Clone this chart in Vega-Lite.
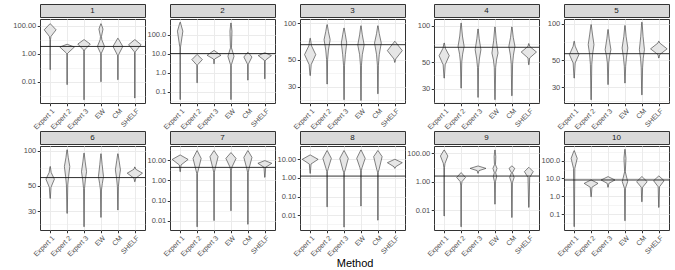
{
"$schema":"https://vega.github.io/schema/vega-lite/v6.json",
"padding":{"left":12,"top":3,"right":2,"bottom":0},
"config":{"font":"Liberation Sans","view":{"stroke":"#333333","strokeWidth":1},"axis":{"labelFontSize":7.5,"labelColor":"#4d4d4d","tickColor":"#333333","tickSize":2.75,"labelPadding":1.5,"domain":false,"gridColor":"#ebebeb","title":null},"axisX":{"labelFontSize":7,"labelPadding":1}},
"title":{"text":"Method","orient":"bottom","fontSize":11,"fontWeight":"normal","color":"#000000","anchor":"middle","dx":14,"offset":0},
"datasets":{
"h":[{"p":1,"h":3.3},{"p":2,"h":10},{"p":3,"h":66.4},{"p":4,"h":66.2},{"p":5,"h":56.6},{"p":6,"h":58.6},{"p":7,"h":4.35},{"p":8,"h":1.26},{"p":9,"h":2.5},{"p":10,"h":8.2}],
"v":[
{"p":1,"m":"Expert 1","v":0.072,"w":0.01},{"p":1,"m":"Expert 1","v":10,"w":0.02},{"p":1,"m":"Expert 1","v":17.4,"w":0.05},{"p":1,"m":"Expert 1","v":51,"w":0.35},{"p":1,"m":"Expert 1","v":138,"w":0.01},
{"p":1,"m":"Expert 2","v":0.0062,"w":0.01},{"p":1,"m":"Expert 2","v":1.0,"w":0.015},{"p":1,"m":"Expert 2","v":1.12,"w":0.05},{"p":1,"m":"Expert 2","v":3.0,"w":0.43},{"p":1,"m":"Expert 2","v":4.7,"w":0.01},
{"p":1,"m":"Expert 3","v":0.00051,"w":0.01},{"p":1,"m":"Expert 3","v":1.5,"w":0.015},{"p":1,"m":"Expert 3","v":1.95,"w":0.05},{"p":1,"m":"Expert 3","v":4.9,"w":0.37},{"p":1,"m":"Expert 3","v":10,"w":0.01},
{"p":1,"m":"EW","v":0.01,"w":0.01},{"p":1,"m":"EW","v":1.0,"w":0.015},{"p":1,"m":"EW","v":1.12,"w":0.03},{"p":1,"m":"EW","v":3.3,"w":0.21},{"p":1,"m":"EW","v":10,"w":0.05},{"p":1,"m":"EW","v":17,"w":0.03},{"p":1,"m":"EW","v":57.5,"w":0.12},{"p":1,"m":"EW","v":138,"w":0.01},
{"p":1,"m":"CM","v":0.0138,"w":0.01},{"p":1,"m":"CM","v":0.7,"w":0.015},{"p":1,"m":"CM","v":0.85,"w":0.04},{"p":1,"m":"CM","v":3.3,"w":0.29},{"p":1,"m":"CM","v":12.6,"w":0.01},
{"p":1,"m":"SHELF","v":0.00068,"w":0.01},{"p":1,"m":"SHELF","v":1.2,"w":0.015},{"p":1,"m":"SHELF","v":1.48,"w":0.05},{"p":1,"m":"SHELF","v":4.4,"w":0.37},{"p":1,"m":"SHELF","v":10,"w":0.01},

{"p":2,"m":"Expert 1","v":0.038,"w":0.01},{"p":2,"m":"Expert 1","v":20,"w":0.015},{"p":2,"m":"Expert 1","v":24.5,"w":0.03},{"p":2,"m":"Expert 1","v":151,"w":0.16},{"p":2,"m":"Expert 1","v":447,"w":0.01},
{"p":2,"m":"Expert 2","v":0.29,"w":0.01},{"p":2,"m":"Expert 2","v":2.3,"w":0.015},{"p":2,"m":"Expert 2","v":2.63,"w":0.04},{"p":2,"m":"Expert 2","v":4.8,"w":0.31},{"p":2,"m":"Expert 2","v":8.9,"w":0.01},
{"p":2,"m":"Expert 3","v":2.9,"w":0.01},{"p":2,"m":"Expert 3","v":4.6,"w":0.015},{"p":2,"m":"Expert 3","v":5.2,"w":0.04},{"p":2,"m":"Expert 3","v":8.1,"w":0.41},{"p":2,"m":"Expert 3","v":14.5,"w":0.01},
{"p":2,"m":"EW","v":0.038,"w":0.01},{"p":2,"m":"EW","v":2.3,"w":0.015},{"p":2,"m":"EW","v":2.63,"w":0.03},{"p":2,"m":"EW","v":7.2,"w":0.18},{"p":2,"m":"EW","v":20,"w":0.03},{"p":2,"m":"EW","v":151,"w":0.06},{"p":2,"m":"EW","v":407,"w":0.01},
{"p":2,"m":"CM","v":0.40,"w":0.01},{"p":2,"m":"CM","v":2.6,"w":0.015},{"p":2,"m":"CM","v":2.95,"w":0.04},{"p":2,"m":"CM","v":6.6,"w":0.24},{"p":2,"m":"CM","v":11.7,"w":0.01},
{"p":2,"m":"SHELF","v":0.47,"w":0.01},{"p":2,"m":"SHELF","v":4,"w":0.015},{"p":2,"m":"SHELF","v":4.5,"w":0.04},{"p":2,"m":"SHELF","v":7.8,"w":0.39},{"p":2,"m":"SHELF","v":11,"w":0.01},

{"p":3,"m":"Expert 1","v":37,"w":0.01},{"p":3,"m":"Expert 1","v":45.5,"w":0.06},{"p":3,"m":"Expert 1","v":55,"w":0.33},{"p":3,"m":"Expert 1","v":65,"w":0.08},{"p":3,"m":"Expert 1","v":75,"w":0.01},
{"p":3,"m":"Expert 2","v":31.5,"w":0.01},{"p":3,"m":"Expert 2","v":50,"w":0.03},{"p":3,"m":"Expert 2","v":60,"w":0.08},{"p":3,"m":"Expert 2","v":73,"w":0.18},{"p":3,"m":"Expert 2","v":85,"w":0.08},{"p":3,"m":"Expert 2","v":97,"w":0.01},
{"p":3,"m":"Expert 3","v":23.4,"w":0.01},{"p":3,"m":"Expert 3","v":45,"w":0.03},{"p":3,"m":"Expert 3","v":55,"w":0.08},{"p":3,"m":"Expert 3","v":68.5,"w":0.16},{"p":3,"m":"Expert 3","v":80,"w":0.08},{"p":3,"m":"Expert 3","v":91,"w":0.01},
{"p":3,"m":"EW","v":23.1,"w":0.01},{"p":3,"m":"EW","v":45,"w":0.03},{"p":3,"m":"EW","v":55,"w":0.08},{"p":3,"m":"EW","v":66,"w":0.19},{"p":3,"m":"EW","v":80,"w":0.08},{"p":3,"m":"EW","v":95,"w":0.01},
{"p":3,"m":"CM","v":26.2,"w":0.01},{"p":3,"m":"CM","v":45,"w":0.03},{"p":3,"m":"CM","v":55,"w":0.08},{"p":3,"m":"CM","v":68.5,"w":0.2},{"p":3,"m":"CM","v":82,"w":0.08},{"p":3,"m":"CM","v":95,"w":0.01},
{"p":3,"m":"SHELF","v":47.5,"w":0.01},{"p":3,"m":"SHELF","v":50.6,"w":0.05},{"p":3,"m":"SHELF","v":59.3,"w":0.44},{"p":3,"m":"SHELF","v":70.7,"w":0.01},

{"p":4,"m":"Expert 1","v":36.8,"w":0.01},{"p":4,"m":"Expert 1","v":47.5,"w":0.06},{"p":4,"m":"Expert 1","v":56.4,"w":0.3},{"p":4,"m":"Expert 1","v":65,"w":0.07},{"p":4,"m":"Expert 1","v":71.8,"w":0.01},
{"p":4,"m":"Expert 2","v":30.4,"w":0.01},{"p":4,"m":"Expert 2","v":50,"w":0.04},{"p":4,"m":"Expert 2","v":58,"w":0.09},{"p":4,"m":"Expert 2","v":67.4,"w":0.18},{"p":4,"m":"Expert 2","v":82,"w":0.08},{"p":4,"m":"Expert 2","v":105,"w":0.01},
{"p":4,"m":"Expert 3","v":25.5,"w":0.01},{"p":4,"m":"Expert 3","v":45,"w":0.03},{"p":4,"m":"Expert 3","v":53,"w":0.08},{"p":4,"m":"Expert 3","v":63.2,"w":0.17},{"p":4,"m":"Expert 3","v":78,"w":0.07},{"p":4,"m":"Expert 3","v":93.8,"w":0.01},
{"p":4,"m":"EW","v":24.4,"w":0.01},{"p":4,"m":"EW","v":45,"w":0.04},{"p":4,"m":"EW","v":52,"w":0.09},{"p":4,"m":"EW","v":59.3,"w":0.18},{"p":4,"m":"EW","v":75,"w":0.08},{"p":4,"m":"EW","v":97.5,"w":0.01},
{"p":4,"m":"CM","v":26.3,"w":0.01},{"p":4,"m":"CM","v":48,"w":0.04},{"p":4,"m":"CM","v":57,"w":0.09},{"p":4,"m":"CM","v":67.4,"w":0.18},{"p":4,"m":"CM","v":80,"w":0.08},{"p":4,"m":"CM","v":97.5,"w":0.01},
{"p":4,"m":"SHELF","v":47.5,"w":0.01},{"p":4,"m":"SHELF","v":54,"w":0.05},{"p":4,"m":"SHELF","v":60.5,"w":0.45},{"p":4,"m":"SHELF","v":67.4,"w":0.05},{"p":4,"m":"SHELF","v":71,"w":0.01},

{"p":5,"m":"Expert 1","v":35.7,"w":0.01},{"p":5,"m":"Expert 1","v":47.5,"w":0.06},{"p":5,"m":"Expert 1","v":55.6,"w":0.28},{"p":5,"m":"Expert 1","v":65.2,"w":0.06},{"p":5,"m":"Expert 1","v":71.6,"w":0.01},
{"p":5,"m":"Expert 2","v":23.7,"w":0.01},{"p":5,"m":"Expert 2","v":46,"w":0.04},{"p":5,"m":"Expert 2","v":56,"w":0.09},{"p":5,"m":"Expert 2","v":67.2,"w":0.17},{"p":5,"m":"Expert 2","v":82,"w":0.08},{"p":5,"m":"Expert 2","v":98,"w":0.01},
{"p":5,"m":"Expert 3","v":31.6,"w":0.01},{"p":5,"m":"Expert 3","v":47.5,"w":0.04},{"p":5,"m":"Expert 3","v":54,"w":0.09},{"p":5,"m":"Expert 3","v":61,"w":0.17},{"p":5,"m":"Expert 3","v":75,"w":0.07},{"p":5,"m":"Expert 3","v":89.3,"w":0.01},
{"p":5,"m":"EW","v":32.5,"w":0.01},{"p":5,"m":"EW","v":44.6,"w":0.04},{"p":5,"m":"EW","v":53,"w":0.09},{"p":5,"m":"EW","v":63,"w":0.17},{"p":5,"m":"EW","v":78,"w":0.07},{"p":5,"m":"EW","v":96.3,"w":0.01},
{"p":5,"m":"CM","v":26,"w":0.01},{"p":5,"m":"CM","v":43.3,"w":0.04},{"p":5,"m":"CM","v":52,"w":0.08},{"p":5,"m":"CM","v":61,"w":0.15},{"p":5,"m":"CM","v":78,"w":0.07},{"p":5,"m":"CM","v":102.6,"w":0.01},
{"p":5,"m":"SHELF","v":52.2,"w":0.01},{"p":5,"m":"SHELF","v":55.6,"w":0.05},{"p":5,"m":"SHELF","v":62,"w":0.49},{"p":5,"m":"SHELF","v":69.3,"w":0.05},{"p":5,"m":"SHELF","v":71.6,"w":0.01},

{"p":6,"m":"Expert 1","v":38.7,"w":0.01},{"p":6,"m":"Expert 1","v":48.3,"w":0.05},{"p":6,"m":"Expert 1","v":56.8,"w":0.25},{"p":6,"m":"Expert 1","v":64.9,"w":0.06},{"p":6,"m":"Expert 1","v":73,"w":0.01},
{"p":6,"m":"Expert 2","v":28.7,"w":0.01},{"p":6,"m":"Expert 2","v":50.6,"w":0.04},{"p":6,"m":"Expert 2","v":60,"w":0.09},{"p":6,"m":"Expert 2","v":73,"w":0.16},{"p":6,"m":"Expert 2","v":87,"w":0.07},{"p":6,"m":"Expert 2","v":102,"w":0.01},
{"p":6,"m":"Expert 3","v":22,"w":0.01},{"p":6,"m":"Expert 3","v":47.3,"w":0.03},{"p":6,"m":"Expert 3","v":56,"w":0.08},{"p":6,"m":"Expert 3","v":66,"w":0.15},{"p":6,"m":"Expert 3","v":80,"w":0.07},{"p":6,"m":"Expert 3","v":95.4,"w":0.01},
{"p":6,"m":"EW","v":26.5,"w":0.01},{"p":6,"m":"EW","v":45.8,"w":0.03},{"p":6,"m":"EW","v":52,"w":0.08},{"p":6,"m":"EW","v":59.8,"w":0.15},{"p":6,"m":"EW","v":76,"w":0.07},{"p":6,"m":"EW","v":94.2,"w":0.01},
{"p":6,"m":"CM","v":30.7,"w":0.01},{"p":6,"m":"CM","v":48.9,"w":0.03},{"p":6,"m":"CM","v":58,"w":0.08},{"p":6,"m":"CM","v":68.4,"w":0.15},{"p":6,"m":"CM","v":82,"w":0.07},{"p":6,"m":"CM","v":94.2,"w":0.01},
{"p":6,"m":"SHELF","v":54,"w":0.01},{"p":6,"m":"SHELF","v":57.8,"w":0.05},{"p":6,"m":"SHELF","v":64,"w":0.45},{"p":6,"m":"SHELF","v":69.3,"w":0.05},{"p":6,"m":"SHELF","v":72.4,"w":0.01},

{"p":7,"m":"Expert 1","v":2.67,"w":0.01},{"p":7,"m":"Expert 1","v":5.7,"w":0.05},{"p":7,"m":"Expert 1","v":10.7,"w":0.47},{"p":7,"m":"Expert 1","v":17.6,"w":0.01},
{"p":7,"m":"Expert 2","v":0.0052,"w":0.01},{"p":7,"m":"Expert 2","v":2.2,"w":0.02},{"p":7,"m":"Expert 2","v":3.2,"w":0.07},{"p":7,"m":"Expert 2","v":12,"w":0.24},{"p":7,"m":"Expert 2","v":28.8,"w":0.01},
{"p":7,"m":"Expert 3","v":0.0105,"w":0.01},{"p":7,"m":"Expert 3","v":2.5,"w":0.02},{"p":7,"m":"Expert 3","v":3.9,"w":0.07},{"p":7,"m":"Expert 3","v":14.6,"w":0.24},{"p":7,"m":"Expert 3","v":28.8,"w":0.01},
{"p":7,"m":"EW","v":0.032,"w":0.01},{"p":7,"m":"EW","v":3.2,"w":0.02},{"p":7,"m":"EW","v":4.7,"w":0.07},{"p":7,"m":"EW","v":12,"w":0.3},{"p":7,"m":"EW","v":22.9,"w":0.01},
{"p":7,"m":"CM","v":0.0069,"w":0.01},{"p":7,"m":"CM","v":2.5,"w":0.02},{"p":7,"m":"CM","v":3.9,"w":0.07},{"p":7,"m":"CM","v":13.5,"w":0.24},{"p":7,"m":"CM","v":28.8,"w":0.01},
{"p":7,"m":"SHELF","v":1.41,"w":0.01},{"p":7,"m":"SHELF","v":4.4,"w":0.05},{"p":7,"m":"SHELF","v":6.9,"w":0.41},{"p":7,"m":"SHELF","v":9.3,"w":0.01},

{"p":8,"m":"Expert 1","v":1.76,"w":0.01},{"p":8,"m":"Expert 1","v":5.6,"w":0.05},{"p":8,"m":"Expert 1","v":10,"w":0.47},{"p":8,"m":"Expert 1","v":17.1,"w":0.01},
{"p":8,"m":"Expert 2","v":0.028,"w":0.01},{"p":8,"m":"Expert 2","v":2.2,"w":0.02},{"p":8,"m":"Expert 2","v":3.3,"w":0.07},{"p":8,"m":"Expert 2","v":11.3,"w":0.25},{"p":8,"m":"Expert 2","v":29.3,"w":0.01},
{"p":8,"m":"Expert 3","v":0.0023,"w":0.01},{"p":8,"m":"Expert 3","v":2.0,"w":0.02},{"p":8,"m":"Expert 3","v":2.7,"w":0.07},{"p":8,"m":"Expert 3","v":11.3,"w":0.25},{"p":8,"m":"Expert 3","v":29.3,"w":0.01},
{"p":8,"m":"EW","v":0.031,"w":0.01},{"p":8,"m":"EW","v":2.5,"w":0.02},{"p":8,"m":"EW","v":3.7,"w":0.07},{"p":8,"m":"EW","v":11.3,"w":0.25},{"p":8,"m":"EW","v":31.6,"w":0.01},
{"p":8,"m":"CM","v":0.0054,"w":0.01},{"p":8,"m":"CM","v":2.0,"w":0.02},{"p":8,"m":"CM","v":2.9,"w":0.07},{"p":8,"m":"CM","v":13.9,"w":0.25},{"p":8,"m":"CM","v":29.3,"w":0.01},
{"p":8,"m":"SHELF","v":3.3,"w":0.01},{"p":8,"m":"SHELF","v":4.0,"w":0.05},{"p":8,"m":"SHELF","v":6.6,"w":0.44},{"p":8,"m":"SHELF","v":10,"w":0.01},

{"p":9,"m":"Expert 1","v":0.0038,"w":0.01},{"p":9,"m":"Expert 1","v":10,"w":0.02},{"p":9,"m":"Expert 1","v":19.5,"w":0.05},{"p":9,"m":"Expert 1","v":65,"w":0.22},{"p":9,"m":"Expert 1","v":172,"w":0.01},
{"p":9,"m":"Expert 2","v":0.00066,"w":0.01},{"p":9,"m":"Expert 2","v":0.5,"w":0.02},{"p":9,"m":"Expert 2","v":1.0,"w":0.05},{"p":9,"m":"Expert 2","v":2.0,"w":0.26},{"p":9,"m":"Expert 2","v":4.3,"w":0.01},
{"p":9,"m":"Expert 3","v":3.9,"w":0.01},{"p":9,"m":"Expert 3","v":6.0,"w":0.05},{"p":9,"m":"Expert 3","v":8.7,"w":0.47},{"p":9,"m":"Expert 3","v":12.8,"w":0.01},
{"p":9,"m":"EW","v":0.026,"w":0.01},{"p":9,"m":"EW","v":1.0,"w":0.03},{"p":9,"m":"EW","v":2.25,"w":0.1},{"p":9,"m":"EW","v":4.3,"w":0.04},{"p":9,"m":"EW","v":8.7,"w":0.12},{"p":9,"m":"EW","v":15.8,"w":0.03},{"p":9,"m":"EW","v":58,"w":0.05},{"p":9,"m":"EW","v":172,"w":0.01},
{"p":9,"m":"CM","v":0.003,"w":0.01},{"p":9,"m":"CM","v":0.85,"w":0.03},{"p":9,"m":"CM","v":2.0,"w":0.13},{"p":9,"m":"CM","v":4.3,"w":0.03},{"p":9,"m":"CM","v":8.7,"w":0.17},{"p":9,"m":"CM","v":12.8,"w":0.01},
{"p":9,"m":"SHELF","v":0.0155,"w":0.01},{"p":9,"m":"SHELF","v":2.0,"w":0.05},{"p":9,"m":"SHELF","v":5.1,"w":0.26},{"p":9,"m":"SHELF","v":10.2,"w":0.01},

{"p":10,"m":"Expert 1","v":0.0195,"w":0.01},{"p":10,"m":"Expert 1","v":37,"w":0.04},{"p":10,"m":"Expert 1","v":135,"w":0.18},{"p":10,"m":"Expert 1","v":366,"w":0.01},
{"p":10,"m":"Expert 2","v":0.93,"w":0.01},{"p":10,"m":"Expert 2","v":3.2,"w":0.05},{"p":10,"m":"Expert 2","v":5.3,"w":0.41},{"p":10,"m":"Expert 2","v":8.2,"w":0.01},
{"p":10,"m":"Expert 3","v":3.2,"w":0.01},{"p":10,"m":"Expert 3","v":5.3,"w":0.05},{"p":10,"m":"Expert 3","v":8.2,"w":0.41},{"p":10,"m":"Expert 3","v":12.6,"w":0.01},
{"p":10,"m":"EW","v":0.042,"w":0.01},{"p":10,"m":"EW","v":2.8,"w":0.03},{"p":10,"m":"EW","v":6.6,"w":0.16},{"p":10,"m":"EW","v":24,"w":0.02},{"p":10,"m":"EW","v":135,"w":0.06},{"p":10,"m":"EW","v":435,"w":0.01},
{"p":10,"m":"CM","v":0.49,"w":0.01},{"p":10,"m":"CM","v":3.2,"w":0.04},{"p":10,"m":"CM","v":6.6,"w":0.31},{"p":10,"m":"CM","v":12.6,"w":0.01},
{"p":10,"m":"SHELF","v":0.236,"w":0.01},{"p":10,"m":"SHELF","v":3.4,"w":0.04},{"p":10,"m":"SHELF","v":7.5,"w":0.31},{"p":10,"m":"SHELF","v":13.7,"w":0.01}
]},
"columns":5,
"spacing":{"row":-3,"column":0},
"concat":[
{"spacing":0,"vconcat":[
 {"width":105,"height":13,"view":{"fill":"#d9d9d9","stroke":"#333333"},"data":{"values":[{}]},"mark":{"type":"text","text":"1","fontSize":8,"color":"#1a1a1a","baseline":"middle"},"encoding":{}},
 {"width":105,"height":84,"layer":[
  {"data":{"name":"v"},"transform":[{"filter":"datum.p == 1"},{"calculate":"indexof(['Expert 1','Expert 2','Expert 3','EW','CM','SHELF'], datum.m) + 1","as":"c"},{"calculate":"datum.c - datum.w","as":"lo"},{"calculate":"datum.c + datum.w","as":"hi"}],
   "mark":{"type":"area","orient":"horizontal","fill":"#e6e6e6","stroke":"#333333","strokeWidth":0.6},
   "encoding":{
    "y":{"field":"v","type":"quantitative","scale":{"type":"log","domain":[0.0003,302],"nice":false},"axis":{"values":[0.001,0.01,0.1,1,10,100],"labelExpr":"indexof([0.01,1,100],datum.value)>=0 ? format(datum.value,'.2f') : ''","tickOpacity":{"condition":{"test":"indexof([0.01,1,100],datum.value)>=0","value":1},"value":0},"gridWidth":{"condition":{"test":"indexof([0.01,1,100],datum.value)>=0","value":1},"value":0.5},"labelOverlap":false,"labelFlush":false}},
    "x":{"field":"lo","type":"quantitative","scale":{"domain":[0.4,6.6],"nice":false,"zero":false},"axis":{"values":[1,2,3,4,5,6],"labelExpr":"['Expert 1','Expert 2','Expert 3','EW','CM','SHELF'][datum.value - 1]","labelAngle":-45,"labelAlign":"right","labelBaseline":"top","labelOverlap":false,"labelFlush":false,"grid":true,"gridWidth":1}},
    "x2":{"field":"hi"},
    "detail":{"field":"m"}}},
  {"data":{"name":"h"},"transform":[{"filter":"datum.p == 1"}],"mark":{"type":"rule","color":"#1a1a1a","strokeWidth":0.9},"encoding":{"y":{"field":"h","type":"quantitative","scale":{"type":"log","domain":[0.0003,302],"nice":false}}}}
 ]}
]},
{"spacing":0,"vconcat":[
 {"width":105,"height":13,"view":{"fill":"#d9d9d9","stroke":"#333333"},"data":{"values":[{}]},"mark":{"type":"text","text":"2","fontSize":8,"color":"#1a1a1a","baseline":"middle"},"encoding":{}},
 {"width":105,"height":84,"layer":[
  {"data":{"name":"v"},"transform":[{"filter":"datum.p == 2"},{"calculate":"indexof(['Expert 1','Expert 2','Expert 3','EW','CM','SHELF'], datum.m) + 1","as":"c"},{"calculate":"datum.c - datum.w","as":"lo"},{"calculate":"datum.c + datum.w","as":"hi"}],
   "mark":{"type":"area","orient":"horizontal","fill":"#e6e6e6","stroke":"#333333","strokeWidth":0.6},
   "encoding":{
    "y":{"field":"v","type":"quantitative","scale":{"type":"log","domain":[0.025,660],"nice":false},"axis":{"values":[0.0316,0.1,0.316,1,3.16,10,31.6,100,316],"labelExpr":"indexof([0.1,1,10,100],datum.value)>=0 ? format(datum.value,'.1f') : ''","tickOpacity":{"condition":{"test":"indexof([0.1,1,10,100],datum.value)>=0","value":1},"value":0},"gridWidth":{"condition":{"test":"indexof([0.1,1,10,100],datum.value)>=0","value":1},"value":0.5},"labelOverlap":false,"labelFlush":false}},
    "x":{"field":"lo","type":"quantitative","scale":{"domain":[0.4,6.6],"nice":false,"zero":false},"axis":{"values":[1,2,3,4,5,6],"labelExpr":"['Expert 1','Expert 2','Expert 3','EW','CM','SHELF'][datum.value - 1]","labelAngle":-45,"labelAlign":"right","labelBaseline":"top","labelOverlap":false,"labelFlush":false,"grid":true,"gridWidth":1}},
    "x2":{"field":"hi"},
    "detail":{"field":"m"}}},
  {"data":{"name":"h"},"transform":[{"filter":"datum.p == 2"}],"mark":{"type":"rule","color":"#1a1a1a","strokeWidth":0.9},"encoding":{"y":{"field":"h","type":"quantitative","scale":{"type":"log","domain":[0.025,660],"nice":false}}}}
 ]}
]},
{"spacing":0,"vconcat":[
 {"width":105,"height":13,"view":{"fill":"#d9d9d9","stroke":"#333333"},"data":{"values":[{}]},"mark":{"type":"text","text":"3","fontSize":8,"color":"#1a1a1a","baseline":"middle"},"encoding":{}},
 {"width":105,"height":84,"layer":[
  {"data":{"name":"v"},"transform":[{"filter":"datum.p == 3"},{"calculate":"indexof(['Expert 1','Expert 2','Expert 3','EW','CM','SHELF'], datum.m) + 1","as":"c"},{"calculate":"datum.c - datum.w","as":"lo"},{"calculate":"datum.c + datum.w","as":"hi"}],
   "mark":{"type":"area","orient":"horizontal","fill":"#e6e6e6","stroke":"#333333","strokeWidth":0.6},
   "encoding":{
    "y":{"field":"v","type":"quantitative","scale":{"type":"log","domain":[22,108],"nice":false},"axis":{"values":[23.2,30,38.7,50,70.7,100],"labelExpr":"indexof([30,50,100],datum.value)>=0 ? format(datum.value,'d') : ''","tickOpacity":{"condition":{"test":"indexof([30,50,100],datum.value)>=0","value":1},"value":0},"gridWidth":{"condition":{"test":"indexof([30,50,100],datum.value)>=0","value":1},"value":0.5},"labelOverlap":false,"labelFlush":false}},
    "x":{"field":"lo","type":"quantitative","scale":{"domain":[0.4,6.6],"nice":false,"zero":false},"axis":{"values":[1,2,3,4,5,6],"labelExpr":"['Expert 1','Expert 2','Expert 3','EW','CM','SHELF'][datum.value - 1]","labelAngle":-45,"labelAlign":"right","labelBaseline":"top","labelOverlap":false,"labelFlush":false,"grid":true,"gridWidth":1}},
    "x2":{"field":"hi"},
    "detail":{"field":"m"}}},
  {"data":{"name":"h"},"transform":[{"filter":"datum.p == 3"}],"mark":{"type":"rule","color":"#1a1a1a","strokeWidth":0.9},"encoding":{"y":{"field":"h","type":"quantitative","scale":{"type":"log","domain":[22,108],"nice":false}}}}
 ]}
]},
{"spacing":0,"vconcat":[
 {"width":105,"height":13,"view":{"fill":"#d9d9d9","stroke":"#333333"},"data":{"values":[{}]},"mark":{"type":"text","text":"4","fontSize":8,"color":"#1a1a1a","baseline":"middle"},"encoding":{}},
 {"width":105,"height":84,"layer":[
  {"data":{"name":"v"},"transform":[{"filter":"datum.p == 4"},{"calculate":"indexof(['Expert 1','Expert 2','Expert 3','EW','CM','SHELF'], datum.m) + 1","as":"c"},{"calculate":"datum.c - datum.w","as":"lo"},{"calculate":"datum.c + datum.w","as":"hi"}],
   "mark":{"type":"area","orient":"horizontal","fill":"#e6e6e6","stroke":"#333333","strokeWidth":0.6},
   "encoding":{
    "y":{"field":"v","type":"quantitative","scale":{"type":"log","domain":[22.9,113.5],"nice":false},"axis":{"values":[23.2,30,38.7,50,70.7,100],"labelExpr":"indexof([30,50,100],datum.value)>=0 ? format(datum.value,'d') : ''","tickOpacity":{"condition":{"test":"indexof([30,50,100],datum.value)>=0","value":1},"value":0},"gridWidth":{"condition":{"test":"indexof([30,50,100],datum.value)>=0","value":1},"value":0.5},"labelOverlap":false,"labelFlush":false}},
    "x":{"field":"lo","type":"quantitative","scale":{"domain":[0.4,6.6],"nice":false,"zero":false},"axis":{"values":[1,2,3,4,5,6],"labelExpr":"['Expert 1','Expert 2','Expert 3','EW','CM','SHELF'][datum.value - 1]","labelAngle":-45,"labelAlign":"right","labelBaseline":"top","labelOverlap":false,"labelFlush":false,"grid":true,"gridWidth":1}},
    "x2":{"field":"hi"},
    "detail":{"field":"m"}}},
  {"data":{"name":"h"},"transform":[{"filter":"datum.p == 4"}],"mark":{"type":"rule","color":"#1a1a1a","strokeWidth":0.9},"encoding":{"y":{"field":"h","type":"quantitative","scale":{"type":"log","domain":[22.9,113.5],"nice":false}}}}
 ]}
]},
{"spacing":0,"vconcat":[
 {"width":105,"height":13,"view":{"fill":"#d9d9d9","stroke":"#333333"},"data":{"values":[{}]},"mark":{"type":"text","text":"5","fontSize":8,"color":"#1a1a1a","baseline":"middle"},"encoding":{}},
 {"width":105,"height":84,"layer":[
  {"data":{"name":"v"},"transform":[{"filter":"datum.p == 5"},{"calculate":"indexof(['Expert 1','Expert 2','Expert 3','EW','CM','SHELF'], datum.m) + 1","as":"c"},{"calculate":"datum.c - datum.w","as":"lo"},{"calculate":"datum.c + datum.w","as":"hi"}],
   "mark":{"type":"area","orient":"horizontal","fill":"#e6e6e6","stroke":"#333333","strokeWidth":0.6},
   "encoding":{
    "y":{"field":"v","type":"quantitative","scale":{"type":"log","domain":[22.3,109],"nice":false},"axis":{"values":[23.2,30,38.7,50,70.7,100],"labelExpr":"indexof([30,50,100],datum.value)>=0 ? format(datum.value,'d') : ''","tickOpacity":{"condition":{"test":"indexof([30,50,100],datum.value)>=0","value":1},"value":0},"gridWidth":{"condition":{"test":"indexof([30,50,100],datum.value)>=0","value":1},"value":0.5},"labelOverlap":false,"labelFlush":false}},
    "x":{"field":"lo","type":"quantitative","scale":{"domain":[0.4,6.6],"nice":false,"zero":false},"axis":{"values":[1,2,3,4,5,6],"labelExpr":"['Expert 1','Expert 2','Expert 3','EW','CM','SHELF'][datum.value - 1]","labelAngle":-45,"labelAlign":"right","labelBaseline":"top","labelOverlap":false,"labelFlush":false,"grid":true,"gridWidth":1}},
    "x2":{"field":"hi"},
    "detail":{"field":"m"}}},
  {"data":{"name":"h"},"transform":[{"filter":"datum.p == 5"}],"mark":{"type":"rule","color":"#1a1a1a","strokeWidth":0.9},"encoding":{"y":{"field":"h","type":"quantitative","scale":{"type":"log","domain":[22.3,109],"nice":false}}}}
 ]}
]},
{"spacing":0,"vconcat":[
 {"width":105,"height":13,"view":{"fill":"#d9d9d9","stroke":"#333333"},"data":{"values":[{}]},"mark":{"type":"text","text":"6","fontSize":8,"color":"#1a1a1a","baseline":"middle"},"encoding":{}},
 {"width":105,"height":84,"layer":[
  {"data":{"name":"v"},"transform":[{"filter":"datum.p == 6"},{"calculate":"indexof(['Expert 1','Expert 2','Expert 3','EW','CM','SHELF'], datum.m) + 1","as":"c"},{"calculate":"datum.c - datum.w","as":"lo"},{"calculate":"datum.c + datum.w","as":"hi"}],
   "mark":{"type":"area","orient":"horizontal","fill":"#e6e6e6","stroke":"#333333","strokeWidth":0.6},
   "encoding":{
    "y":{"field":"v","type":"quantitative","scale":{"type":"log","domain":[20.6,110],"nice":false},"axis":{"values":[23.2,30,38.7,50,70.7,100],"labelExpr":"indexof([30,50,100],datum.value)>=0 ? format(datum.value,'d') : ''","tickOpacity":{"condition":{"test":"indexof([30,50,100],datum.value)>=0","value":1},"value":0},"gridWidth":{"condition":{"test":"indexof([30,50,100],datum.value)>=0","value":1},"value":0.5},"labelOverlap":false,"labelFlush":false}},
    "x":{"field":"lo","type":"quantitative","scale":{"domain":[0.4,6.6],"nice":false,"zero":false},"axis":{"values":[1,2,3,4,5,6],"labelExpr":"['Expert 1','Expert 2','Expert 3','EW','CM','SHELF'][datum.value - 1]","labelAngle":-45,"labelAlign":"right","labelBaseline":"top","labelOverlap":false,"labelFlush":false,"grid":true,"gridWidth":1}},
    "x2":{"field":"hi"},
    "detail":{"field":"m"}}},
  {"data":{"name":"h"},"transform":[{"filter":"datum.p == 6"}],"mark":{"type":"rule","color":"#1a1a1a","strokeWidth":0.9},"encoding":{"y":{"field":"h","type":"quantitative","scale":{"type":"log","domain":[20.6,110],"nice":false}}}}
 ]}
]},
{"spacing":0,"vconcat":[
 {"width":105,"height":13,"view":{"fill":"#d9d9d9","stroke":"#333333"},"data":{"values":[{}]},"mark":{"type":"text","text":"7","fontSize":8,"color":"#1a1a1a","baseline":"middle"},"encoding":{}},
 {"width":105,"height":84,"layer":[
  {"data":{"name":"v"},"transform":[{"filter":"datum.p == 7"},{"calculate":"indexof(['Expert 1','Expert 2','Expert 3','EW','CM','SHELF'], datum.m) + 1","as":"c"},{"calculate":"datum.c - datum.w","as":"lo"},{"calculate":"datum.c + datum.w","as":"hi"}],
   "mark":{"type":"area","orient":"horizontal","fill":"#e6e6e6","stroke":"#333333","strokeWidth":0.6},
   "encoding":{
    "y":{"field":"v","type":"quantitative","scale":{"type":"log","domain":[0.0036,49],"nice":false},"axis":{"values":[0.01,0.0316,0.1,0.316,1,3.16,10,31.6],"labelExpr":"indexof([0.01,0.1,1,10],datum.value)>=0 ? format(datum.value,'.2f') : ''","tickOpacity":{"condition":{"test":"indexof([0.01,0.1,1,10],datum.value)>=0","value":1},"value":0},"gridWidth":{"condition":{"test":"indexof([0.01,0.1,1,10],datum.value)>=0","value":1},"value":0.5},"labelOverlap":false,"labelFlush":false}},
    "x":{"field":"lo","type":"quantitative","scale":{"domain":[0.4,6.6],"nice":false,"zero":false},"axis":{"values":[1,2,3,4,5,6],"labelExpr":"['Expert 1','Expert 2','Expert 3','EW','CM','SHELF'][datum.value - 1]","labelAngle":-45,"labelAlign":"right","labelBaseline":"top","labelOverlap":false,"labelFlush":false,"grid":true,"gridWidth":1}},
    "x2":{"field":"hi"},
    "detail":{"field":"m"}}},
  {"data":{"name":"h"},"transform":[{"filter":"datum.p == 7"}],"mark":{"type":"rule","color":"#1a1a1a","strokeWidth":0.9},"encoding":{"y":{"field":"h","type":"quantitative","scale":{"type":"log","domain":[0.0036,49],"nice":false}}}}
 ]}
]},
{"spacing":0,"vconcat":[
 {"width":105,"height":13,"view":{"fill":"#d9d9d9","stroke":"#333333"},"data":{"values":[{}]},"mark":{"type":"text","text":"8","fontSize":8,"color":"#1a1a1a","baseline":"middle"},"encoding":{}},
 {"width":105,"height":84,"layer":[
  {"data":{"name":"v"},"transform":[{"filter":"datum.p == 8"},{"calculate":"indexof(['Expert 1','Expert 2','Expert 3','EW','CM','SHELF'], datum.m) + 1","as":"c"},{"calculate":"datum.c - datum.w","as":"lo"},{"calculate":"datum.c + datum.w","as":"hi"}],
   "mark":{"type":"area","orient":"horizontal","fill":"#e6e6e6","stroke":"#333333","strokeWidth":0.6},
   "encoding":{
    "y":{"field":"v","type":"quantitative","scale":{"type":"log","domain":[0.0016,52],"nice":false},"axis":{"values":[0.00316,0.01,0.0316,0.1,0.316,1,3.16,10,31.6],"labelExpr":"indexof([0.01,0.1,1,10],datum.value)>=0 ? format(datum.value,'.2f') : ''","tickOpacity":{"condition":{"test":"indexof([0.01,0.1,1,10],datum.value)>=0","value":1},"value":0},"gridWidth":{"condition":{"test":"indexof([0.01,0.1,1,10],datum.value)>=0","value":1},"value":0.5},"labelOverlap":false,"labelFlush":false}},
    "x":{"field":"lo","type":"quantitative","scale":{"domain":[0.4,6.6],"nice":false,"zero":false},"axis":{"values":[1,2,3,4,5,6],"labelExpr":"['Expert 1','Expert 2','Expert 3','EW','CM','SHELF'][datum.value - 1]","labelAngle":-45,"labelAlign":"right","labelBaseline":"top","labelOverlap":false,"labelFlush":false,"grid":true,"gridWidth":1}},
    "x2":{"field":"hi"},
    "detail":{"field":"m"}}},
  {"data":{"name":"h"},"transform":[{"filter":"datum.p == 8"}],"mark":{"type":"rule","color":"#1a1a1a","strokeWidth":0.9},"encoding":{"y":{"field":"h","type":"quantitative","scale":{"type":"log","domain":[0.0016,52],"nice":false}}}}
 ]}
]},
{"spacing":0,"vconcat":[
 {"width":105,"height":13,"view":{"fill":"#d9d9d9","stroke":"#333333"},"data":{"values":[{}]},"mark":{"type":"text","text":"9","fontSize":8,"color":"#1a1a1a","baseline":"middle"},"encoding":{}},
 {"width":105,"height":84,"layer":[
  {"data":{"name":"v"},"transform":[{"filter":"datum.p == 9"},{"calculate":"indexof(['Expert 1','Expert 2','Expert 3','EW','CM','SHELF'], datum.m) + 1","as":"c"},{"calculate":"datum.c - datum.w","as":"lo"},{"calculate":"datum.c + datum.w","as":"hi"}],
   "mark":{"type":"area","orient":"horizontal","fill":"#e6e6e6","stroke":"#333333","strokeWidth":0.6},
   "encoding":{
    "y":{"field":"v","type":"quantitative","scale":{"type":"log","domain":[0.00039,330],"nice":false},"axis":{"values":[0.001,0.01,0.1,1,10,100],"labelExpr":"indexof([0.01,1,100],datum.value)>=0 ? format(datum.value,'.2f') : ''","tickOpacity":{"condition":{"test":"indexof([0.01,1,100],datum.value)>=0","value":1},"value":0},"gridWidth":{"condition":{"test":"indexof([0.01,1,100],datum.value)>=0","value":1},"value":0.5},"labelOverlap":false,"labelFlush":false}},
    "x":{"field":"lo","type":"quantitative","scale":{"domain":[0.4,6.6],"nice":false,"zero":false},"axis":{"values":[1,2,3,4,5,6],"labelExpr":"['Expert 1','Expert 2','Expert 3','EW','CM','SHELF'][datum.value - 1]","labelAngle":-45,"labelAlign":"right","labelBaseline":"top","labelOverlap":false,"labelFlush":false,"grid":true,"gridWidth":1}},
    "x2":{"field":"hi"},
    "detail":{"field":"m"}}},
  {"data":{"name":"h"},"transform":[{"filter":"datum.p == 9"}],"mark":{"type":"rule","color":"#1a1a1a","strokeWidth":0.9},"encoding":{"y":{"field":"h","type":"quantitative","scale":{"type":"log","domain":[0.00039,330],"nice":false}}}}
 ]}
]},
{"spacing":0,"vconcat":[
 {"width":105,"height":13,"view":{"fill":"#d9d9d9","stroke":"#333333"},"data":{"values":[{}]},"mark":{"type":"text","text":"10","fontSize":8,"color":"#1a1a1a","baseline":"middle"},"encoding":{}},
 {"width":105,"height":84,"layer":[
  {"data":{"name":"v"},"transform":[{"filter":"datum.p == 10"},{"calculate":"indexof(['Expert 1','Expert 2','Expert 3','EW','CM','SHELF'], datum.m) + 1","as":"c"},{"calculate":"datum.c - datum.w","as":"lo"},{"calculate":"datum.c + datum.w","as":"hi"}],
   "mark":{"type":"area","orient":"horizontal","fill":"#e6e6e6","stroke":"#333333","strokeWidth":0.6},
   "encoding":{
    "y":{"field":"v","type":"quantitative","scale":{"type":"log","domain":[0.0126,670],"nice":false},"axis":{"values":[0.0316,0.1,0.316,1,3.16,10,31.6,100,316],"labelExpr":"indexof([0.1,1,10,100],datum.value)>=0 ? format(datum.value,'.1f') : ''","tickOpacity":{"condition":{"test":"indexof([0.1,1,10,100],datum.value)>=0","value":1},"value":0},"gridWidth":{"condition":{"test":"indexof([0.1,1,10,100],datum.value)>=0","value":1},"value":0.5},"labelOverlap":false,"labelFlush":false}},
    "x":{"field":"lo","type":"quantitative","scale":{"domain":[0.4,6.6],"nice":false,"zero":false},"axis":{"values":[1,2,3,4,5,6],"labelExpr":"['Expert 1','Expert 2','Expert 3','EW','CM','SHELF'][datum.value - 1]","labelAngle":-45,"labelAlign":"right","labelBaseline":"top","labelOverlap":false,"labelFlush":false,"grid":true,"gridWidth":1}},
    "x2":{"field":"hi"},
    "detail":{"field":"m"}}},
  {"data":{"name":"h"},"transform":[{"filter":"datum.p == 10"}],"mark":{"type":"rule","color":"#1a1a1a","strokeWidth":0.9},"encoding":{"y":{"field":"h","type":"quantitative","scale":{"type":"log","domain":[0.0126,670],"nice":false}}}}
 ]}
]}
]
}
